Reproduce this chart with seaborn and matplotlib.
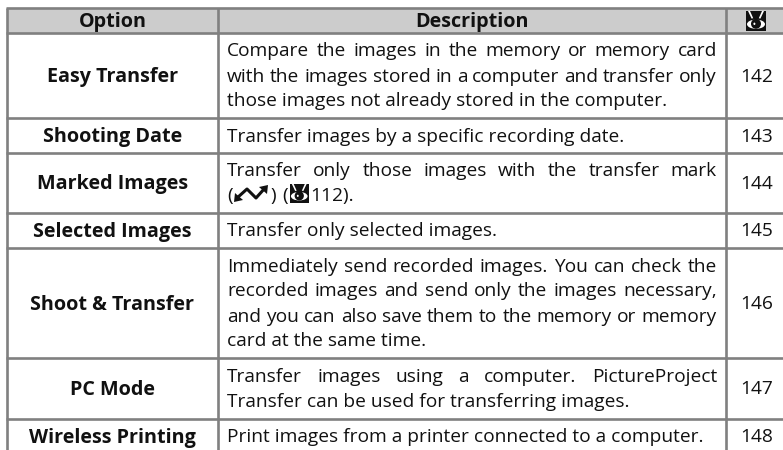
import pandas as pd
import seaborn as sns
import matplotlib
matplotlib.use('Agg')
import matplotlib.pyplot as plt
from matplotlib.patches import Rectangle, Ellipse, Polygon

headers = ['Option', 'Description']
options = ['Easy Transfer', 'Shooting Date', 'Marked Images', 'Selected Images',
           'Shoot & Transfer', 'PC Mode', 'Wireless Printing']
descriptions = [
    ['Compare the images in the memory or memory card',
     'with the images stored in a computer and transfer only',
     'those images not already stored in the computer.'],
    ['Transfer images by a specific recording date.'],
    ['Transfer only those images with the transfer mark', None],
    ['Transfer only selected images.'],
    ['Immediately send recorded images. You can check the',
     'recorded images and send only the images necessary,',
     'and you can also save them to the memory or memory',
     'card at the same time.'],
    ['Transfer images using a computer. PictureProject',
     'Transfer can be used for transferring images.'],
    ['Print images from a printer connected to a computer.'],
]
pages = ['142', '143', '144', '145', '146', '147', '148']

# layout, in pixels of the page
row_edges = [8, 33, 118, 153, 213, 248, 358, 419, 454]
col_edges = [7, 218, 726]
right = 783
pitch = 25
text_left = 227
text_right = 717
FS = 13.8
FS_BOLD = 14.2
INK = '#111111'
RULE = '#808080'

sns.set_theme(style='white')
plt.rcParams['font.family'] = ['Open Sans', 'DejaVu Sans']

fig = plt.figure(figsize=(7.83, 4.5), dpi=100)
ax = fig.add_axes([0, 0, 1, 1])
ax.axhspan(row_edges[0], row_edges[1], xmin=col_edges[0] / right, color='#cccccc', lw=0)

# table rules
h = [{'x': x, 'y': y, 'rule': 'h%d' % i}
     for i, y in enumerate(row_edges[:-1]) for x in (col_edges[0] - 1, right)]
v = [{'x': x, 'y': y, 'rule': 'v%d' % i}
     for i, x in enumerate(col_edges) for y in (row_edges[0], 450)]
rules = pd.DataFrame(h + v)
sns.lineplot(data=rules, x='x', y='y', units='rule', estimator=None, sort=False,
             color=RULE, linewidth=1.9, solid_capstyle='butt', ax=ax, legend=False)
ax.set_xlim(0, right)
ax.set_ylim(450, 0)
ax.set_xlabel('')
ax.set_ylabel('')
ax.set_axis_off()


def eye(x, y, s):
    # the little book/eye reference mark
    ax.add_patch(Rectangle((x, y), s, s, fc='#111111', ec='none', zorder=3))
    ax.add_patch(Ellipse((x + s / 2, y + s * 0.66), s * 0.9, s * 0.46, fc='white', ec='none', zorder=4))
    ax.add_patch(Ellipse((x + s / 2, y + s * 0.64), s * 0.5, s * 0.5, fc='#111111', ec='none', zorder=5))
    ax.add_patch(Ellipse((x + s * 0.42, y + s * 0.64), s * 0.1, s * 0.12, fc='white', ec='none', zorder=6))
    ax.add_patch(Polygon([(x + s * 0.1, y), (x + s * 0.2, y), (x + s * 0.36, y + s * 0.36), (x + s * 0.28, y + s * 0.38)],
                         fc='white', ec='none', zorder=4))
    ax.add_patch(Polygon([(x + s * 0.9, y), (x + s * 0.8, y), (x + s * 0.64, y + s * 0.36), (x + s * 0.72, y + s * 0.38)],
                         fc='white', ec='none', zorder=4))


def justified(line, y):
    words = line.split(' ')
    r = fig.canvas.get_renderer()
    ws = []
    for w in words:
        t = ax.text(0, 0, w, fontsize=FS)
        ws.append(t.get_window_extent(r).width)
        t.remove()
    gap = (text_right - text_left - sum(ws)) / (len(words) - 1)
    x = text_left
    for w, wd in zip(words, ws):
        ax.text(x, y, w, fontsize=FS, color=INK, va='center_baseline', ha='left')
        x += wd + gap


fig.canvas.draw()

ax.text((col_edges[0] + col_edges[1]) / 2, 20, headers[0], fontsize=FS_BOLD, weight='bold',
        color=INK, ha='center', va='center_baseline')
ax.text((col_edges[1] + col_edges[2]) / 2, 20, headers[1], fontsize=FS_BOLD, weight='bold',
        color=INK, ha='center', va='center_baseline')
eye(746, 11, 20)

for i, opt in enumerate(options):
    mid = (row_edges[i + 1] + row_edges[i + 2]) / 2 - 1
    ax.text((col_edges[0] + col_edges[1]) / 2, mid, opt, fontsize=FS_BOLD, weight='bold',
            color=INK, ha='center', va='center_baseline')
    ax.text((col_edges[2] + right) / 2 + 2, mid, pages[i], fontsize=FS,
            color=INK, ha='center', va='center_baseline')
    lines = descriptions[i]
    y0 = mid - pitch * (len(lines) - 1) / 2
    for j, line in enumerate(lines):
        y = y0 + j * pitch
        if line is None:
            # second line of the marked images row: icons mixed with text
            ax.text(text_left, y, '(', fontsize=FS, color=INK, va='center_baseline')
            ax.plot([237, 247, 256, 265], [198, 189, 198, 188],
                    color='#111111', lw=2.2, solid_joinstyle='round')
            ax.add_patch(Polygon([(234, 202), (235, 193), (243, 200)], fc='#111111', ec='none'))
            ax.add_patch(Polygon([(268, 185), (259, 187), (267, 194)], fc='#111111', ec='none'))
            ax.text(270, y, ')', fontsize=FS, color=INK, va='center_baseline')
            ax.text(282, y, '(', fontsize=FS, color=INK, va='center_baseline')
            eye(290, 184, 18.5)
            ax.text(310, y, '112).', fontsize=FS, color=INK, va='center_baseline')
        elif j < len(lines) - 1:
            justified(line, y)
        else:
            ax.text(text_left, y, line, fontsize=FS, color=INK, va='center_baseline')

fig.savefig('out.png', dpi=100)
